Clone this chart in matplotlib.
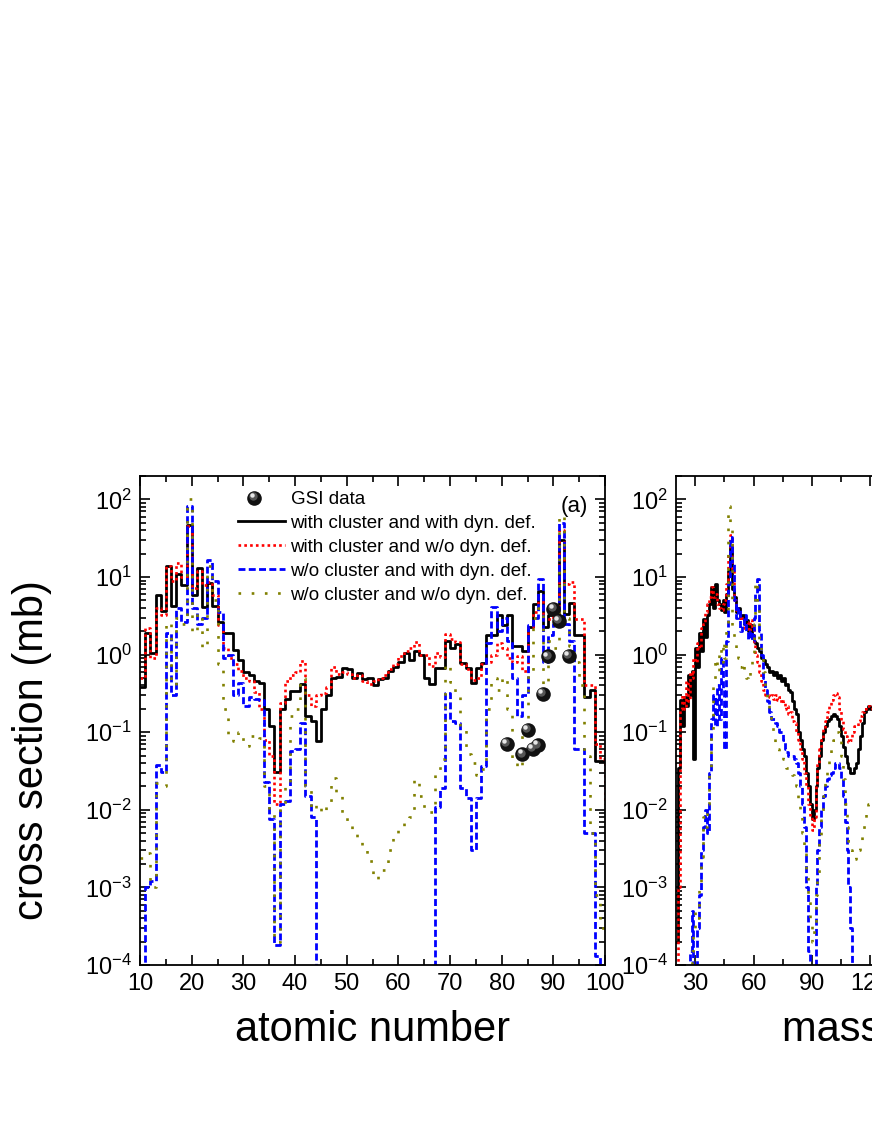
import numpy as np
import matplotlib
matplotlib.use("Agg")
import matplotlib.pyplot as plt
from matplotlib import transforms
from matplotlib.lines import Line2D
from matplotlib.legend_handler import HandlerBase
from matplotlib.ticker import LogLocator, MultipleLocator, NullFormatter

plt.rcParams["font.family"] = ["Liberation Sans", "DejaVu Sans"]
plt.rcParams["mathtext.fontset"] = "custom"
plt.rcParams["mathtext.rm"] = "Liberation Sans"
plt.rcParams["mathtext.it"] = "Liberation Sans:italic"
plt.rcParams["mathtext.bf"] = "Liberation Sans:bold"

# ----------------------------------------------------
# Data: (a) charge distribution, Z = 10 ... 100
# ----------------------------------------------------

charge = np.arange(10, 101)

z_black = [
    0.38, 1.9, 1.05, 5.8, 3.6, 13.8, 4.2, 10.8, 7.8, 47,
    5.8, 13, 4.1, 8.4, 4.2, 2.6, 1.9, 1.9, 1.15, 0.85,
    0.6, 0.55, 0.45, 0.43, 0.2, 0.12, 0.031, 0.2, 0.27, 0.34,
    0.34, 0.42, 0.16, 0.14, 0.076, 0.2, 0.3, 0.5, 0.52, 0.68,
    0.65, 0.5, 0.58, 0.48, 0.5, 0.4, 0.48, 0.5, 0.62, 0.7,
    0.8, 1.05, 0.85, 1.1, 1.0, 0.5, 0.42, 0.68, 0.68, 1.5,
    1.2, 1.35, 0.78, 0.68, 0.43, 0.68, 0.78, 1.8, 1.8, 3.2,
    2.4, 3.2, 1.3, 1.3, 1.1, 2.3, 4.5, 6.5, 2.3, 3.2,
    3.2, 30, 3.3, 4.6, 1.8, 1.8, 0.28, 0.35, 0.042, 0.042,
    0.042,
]

z_red = [
    0.5, 2.2, 0.9, 4.0, 3.2, 14, 9, 15, 10, 46,
    7.2, 12, 7.8, 8.5, 5.8, 2.4, 1.2, 0.9, 0.75, 0.62,
    0.5, 0.45, 0.33, 0.2, 0.08, 0.05, 0.012, 0.24, 0.45, 0.55,
    0.6, 0.82, 0.3, 0.22, 0.3, 0.32, 0.38, 0.7, 0.57, 0.6,
    0.57, 0.5, 0.55, 0.45, 0.42, 0.45, 0.5, 0.55, 0.65, 0.75,
    0.95, 1.1, 1.2, 1.45, 1.0, 1.0, 0.72, 1.05, 0.92, 1.85,
    1.6, 1.45, 0.76, 0.65, 0.47, 0.5, 0.75, 0.8, 1.0, 1.4,
    1.2, 0.9, 0.8, 0.95, 0.62, 2.3, 3.5, 5.7, 2.9, 2.9,
    3.5, 40, 8, 8.5, 2.9, 2.9, 0.4, 0.4, 0.07, 0.045,
    0.012,
]

z_blue = [
    5e-5, 0.001, 0.0012, 0.038, 0.031, 1.9, 0.3, 4.0, 2.6, 82,
    4.0, 2.5, 3.0, 16.5, 9.0, 3.5, 0.9, 1.0, 0.3, 0.43,
    0.22, 0.28, 0.27, 0.26, 0.023, 0.0076, 1.8e-4, 0.012, 0.013, 0.057,
    0.06, 0.13, 0.015, 0.008, 5e-5, 5e-5, 5e-5, 5e-5, 5e-5, 5e-5,
    5e-5, 5e-5, 5e-5, 5e-5, 5e-5, 5e-5, 5e-5, 5e-5, 5e-5, 5e-5,
    5e-5, 5e-5, 5e-5, 5e-5, 5e-5, 5e-5, 5e-5, 0.011, 0.019, 0.32,
    0.14, 0.13, 0.019, 0.014, 0.003, 0.014, 0.037, 1.4, 4.1, 2.0,
    3.0, 1.5, 0.5, 0.16, 0.3, 2.4, 3.0, 9.4, 0.8, 1.8,
    2.5, 50, 2.5, 1.5, 0.06, 0.06, 0.005, 0.005, 1.3e-4, 5e-5,
    5e-5,
]

z_olive = [
    0.0024, 0.0028, 0.001, 0.022, 0.02, 2.6, 0.4, 3.0, 2.5, 100,
    1.9, 3.4, 1.2, 14, 5.0, 0.75, 0.2, 0.085, 0.078, 0.1,
    0.067, 0.09, 0.08, 0.085, 0.02, 0.0095, 2e-4, 0.011, 0.022, 0.16,
    0.2, 0.5, 0.02, 0.01, 0.012, 0.009, 0.012, 0.026, 0.015, 0.009,
    0.007, 0.005, 0.004, 0.0032, 0.0022, 0.0013, 0.0017, 0.0017, 0.003, 0.0045,
    0.006, 0.007, 0.008, 0.025, 0.015, 0.01, 0.0095, 0.033, 0.045, 0.76,
    0.44, 0.32, 0.11, 0.052, 0.04, 0.028, 0.034, 0.2, 0.5, 0.35,
    0.52, 0.2, 0.04, 0.035, 0.1, 0.6, 3.0, 4.0, 0.4, 1.5,
    1.2, 62, 3.0, 1.3, 0.8, 0.4, 0.05, 0.005, 0.0008, 0.0003,
    0.0003,
]

gsi_z = [81, 84, 85, 86, 87, 88, 89, 90, 91, 93]
gsi_sigma = [0.071, 0.052, 0.107, 0.061, 0.068, 0.31, 0.95, 3.9, 2.7, 0.97]

# ----------------------------------------------------
# Data: (b) mass distribution, A = 20 ... 125 (visible part)
# ----------------------------------------------------

mass = np.arange(20, 126)

a_black = [
    2e-4, 0.035, 0.26, 0.12, 0.28, 0.22, 0.55, 0.3, 0.62, 0.045,
    1.2, 0.7, 1.9, 1.1, 2.9, 1.7, 3.2, 4.5, 7.5, 4.0,
    8.0, 5.0, 4.5, 3.8, 5.0, 3.5, 6.0, 12, 24, 7.0,
    5.5, 3.5, 4.0, 3.0, 3.2, 2.5, 2.8, 2.0, 2.4, 1.8,
    1.5, 1.4, 1.2, 1.1, 0.9, 0.85, 0.75, 0.7, 0.6, 0.62,
    0.55, 0.6, 0.5, 0.55, 0.45, 0.5, 0.4, 0.42, 0.35, 0.33,
    0.25, 0.2, 0.17, 0.1, 0.08, 0.06, 0.05, 0.03, 0.02, 0.012,
    0.0075, 0.01, 0.02, 0.035, 0.05, 0.08, 0.1, 0.12, 0.14, 0.15,
    0.16, 0.17, 0.16, 0.15, 0.12, 0.09, 0.065, 0.05, 0.04, 0.035,
    0.03, 0.03, 0.035, 0.04, 0.06, 0.09, 0.13, 0.18, 0.2, 0.22,
    0.2, 0.21, 0.2, 0.2, 0.19, 0.2,
]

a_red = [
    1e-4, 0.001, 0.2, 0.3, 0.2, 0.45, 0.25, 0.6, 0.5, 0.9,
    0.8, 1.4, 1.2, 2.2, 2.5, 3.5, 4.5, 5.5, 7.5, 5.5,
    6.0, 4.5, 4.0, 3.8, 4.5, 5.0, 8.0, 20, 35, 12,
    5.0, 3.8, 3.5, 2.8, 3.0, 2.2, 2.6, 2.0, 2.8, 2.2,
    1.4, 1.0, 0.8, 0.6, 0.45, 0.35, 0.3, 0.3, 0.28, 0.3,
    0.27, 0.3, 0.26, 0.28, 0.24, 0.25, 0.2, 0.22, 0.17, 0.18,
    0.14, 0.13, 0.1, 0.08, 0.06, 0.045, 0.03, 0.02, 0.012, 0.008,
    0.0055, 0.008, 0.02, 0.04, 0.06, 0.08, 0.11, 0.14, 0.18, 0.22,
    0.26, 0.3, 0.32, 0.28, 0.2, 0.14, 0.11, 0.09, 0.08, 0.075,
    0.08, 0.1, 0.12, 0.12, 0.14, 0.16, 0.18, 0.2, 0.22, 0.22,
    0.21, 0.2, 0.2, 0.2, 0.2, 0.2,
]

a_blue = [
    5e-5, 5e-5, 5e-5, 5e-5, 5e-5, 5e-5, 5e-5, 1.5e-4, 5e-4, 1e-4,
    5e-5, 3e-4, 8e-4, 0.003, 0.006, 0.01, 0.005, 0.03, 0.15, 0.3,
    0.12, 0.4, 0.15, 0.9, 0.35, 0.06, 1.5, 8.0, 33, 15,
    5.0, 3.0, 4.0, 2.0, 2.5, 3.2, 2.0, 1.6, 2.0, 1.5,
    3.0, 6.0, 9.5, 2.0, 1.0, 0.5, 0.35, 0.25, 0.18, 0.15,
    0.15, 0.13, 0.12, 0.1, 0.1, 0.08, 0.06, 0.055, 0.05, 0.05,
    0.05, 0.045, 0.04, 0.03, 0.02, 0.012, 0.006, 0.001, 1.5e-4, 5e-5,
    5e-5, 1e-4, 0.001, 0.003, 0.006, 0.01, 0.015, 0.02, 0.025, 0.028,
    0.03, 0.035, 0.04, 0.04, 0.035, 0.025, 0.015, 0.007, 0.003, 0.001,
    3e-4, 5e-5, 5e-5, 5e-5, 5e-5, 5e-5, 5e-5, 5e-5, 5e-5, 5e-5,
    5e-5, 5e-5, 5e-5, 5e-5, 5e-5, 5e-5,
]

a_olive = [
    5e-5, 5e-5, 5e-5, 5e-5, 5e-5, 5e-5, 5e-5, 1e-4, 1.5e-4, 3e-4,
    5e-4, 4e-4, 0.001, 0.0025, 0.008, 0.006, 0.012, 0.03, 0.1, 0.4,
    0.9, 0.6, 1.2, 0.8, 1.5, 0.9, 2.5, 83, 40, 2.0,
    1.5, 1.2, 0.9, 0.7, 0.8, 0.6, 0.5, 0.45, 0.6, 1.0,
    2.5, 9.0, 5.0, 1.5, 1.0, 0.6, 0.35, 0.25, 0.18, 0.12,
    0.09, 0.07, 0.06, 0.05, 0.05, 0.045, 0.04, 0.035, 0.035, 0.03,
    0.028, 0.025, 0.02, 0.012, 0.008, 0.005, 0.003, 0.0015, 7e-4, 4e-4,
    2e-4, 3e-4, 8e-4, 0.0015, 0.004, 0.008, 0.015, 0.025, 0.035, 0.05,
    0.06, 0.08, 0.1, 0.1, 0.08, 0.05, 0.025, 0.012, 0.006, 0.004,
    0.003, 0.0025, 0.0023, 0.0025, 0.003, 0.004, 0.005, 0.007, 0.01, 0.012,
    0.013, 0.012, 0.012, 0.012, 0.012, 0.012,
]

labels = [
    "with cluster and with dyn. def.",
    "with cluster and w/o dyn. def.",
    "w/o cluster and with dyn. def.",
    "w/o cluster and w/o dyn. def.",
]

# line styles for the four calculations
styles = [
    dict(color="black", lw=2.0, ls="-"),
    dict(color="#ff0000", lw=1.9, ls=(0, (1, 1.2))),
    dict(color="#0000ff", lw=2.0, ls=(0, (2.5, 1.2))),
    dict(color="#808000", lw=1.9, ls=(0, (1, 4))),
]


class SphereHandler(HandlerBase):
    """Legend handle drawn as a shaded ball."""

    def create_artists(self, legend, orig_handle, xdescent, ydescent,
                       width, height, fontsize, trans):
        cx = 0.35 * width - xdescent
        cy = 0.5 * height - ydescent
        arts = []
        for ms, col, d in [(10.5, "#111111", 0), (6, "#555555", 1.2), (3.2, "#e6e6e6", 2.0)]:
            arts.append(Line2D([cx - d], [cy + d], marker="o", ms=ms, mfc=col,
                               mec="none", ls="none", transform=trans))
        return arts


def style_axes(ax, xmin, xmax, major, minor):
    ax.set_yscale("log")
    ax.set_ylim(1e-4, 200)
    ax.set_xlim(xmin, xmax)
    ax.xaxis.set_major_locator(MultipleLocator(major))
    ax.xaxis.set_minor_locator(MultipleLocator(minor))
    ax.yaxis.set_major_locator(LogLocator(base=10, numticks=12))
    ax.yaxis.set_minor_locator(LogLocator(base=10, subs=np.arange(2, 10), numticks=30))
    ax.yaxis.set_minor_formatter(NullFormatter())
    ax.tick_params(which="both", direction="in", top=True, right=True,
                   labelsize=17, width=1.2)
    ax.tick_params(which="major", length=7)
    ax.tick_params(which="minor", length=4)
    ax.tick_params(axis="x", pad=6)
    ax.tick_params(axis="y", pad=6)
    for s in ax.spines.values():
        s.set_linewidth(1.3)


fig = plt.figure(figsize=(8.72, 11.28), dpi=100)
W, H = 872.0, 1128.0

ax1 = fig.add_axes([140 / W, 1 - 965 / H, 465 / W, 489 / H])
ax2 = fig.add_axes([676 / W, 1 - 965 / H, 465 / W, 489 / H])

# ----------------------------------------------------
# Panel (a)
# ----------------------------------------------------

for y, st in zip([z_black, z_red, z_blue, z_olive], styles):
    ax1.plot(charge, y, drawstyle="steps-post", **st)

ax1.plot(gsi_z, gsi_sigma, "o", ms=10.5, mfc="#111111", mec="none", zorder=5)
for ms, col, d in [(6, "#555555", 1.2), (3.2, "#e6e6e6", 2.0)]:
    tr = transforms.offset_copy(ax1.transData, fig=fig, x=-d, y=d, units="points")
    ax1.plot(gsi_z, gsi_sigma, "o", ms=ms, mfc=col, mec="none", transform=tr, zorder=6)

style_axes(ax1, 10, 100, 10, 5)

handles = [Line2D([], [], marker="o", ls="none")]
handles += [Line2D([], [], **st) for st in styles]
ax1.legend(handles, ["GSI data"] + labels,
           handler_map={handles[0]: SphereHandler()},
           loc="upper left", bbox_to_anchor=((238 - 140) / 465, 1 - 15 / 489),
           frameon=False, fontsize=13.5, handlelength=2.5, handletextpad=0.3,
           labelspacing=0.36, borderpad=0, borderaxespad=0)

ax1.text(0.935, 0.937, "(a)", transform=ax1.transAxes, fontsize=16,
         ha="center", va="center")

# ----------------------------------------------------
# Panel (b), cut by the page edge
# ----------------------------------------------------

for y, st in zip([a_black, a_red, a_blue, a_olive], styles):
    ax2.plot(mass, y, drawstyle="steps-post", **st)

style_axes(ax2, 20, 260, 30, 15)

# axis titles
fig.text(372.5 / W, 1 - 1030 / H, "atomic number", ha="center", va="center", fontsize=30)
fig.text(908 / W, 1 - 1030 / H, "mass number", ha="center", va="center", fontsize=30)
fig.text(32 / W, 1 - 750 / H, "cross section (mb)", rotation=90,
         ha="center", va="center", fontsize=30)

fig.savefig("out.png", dpi=100)
